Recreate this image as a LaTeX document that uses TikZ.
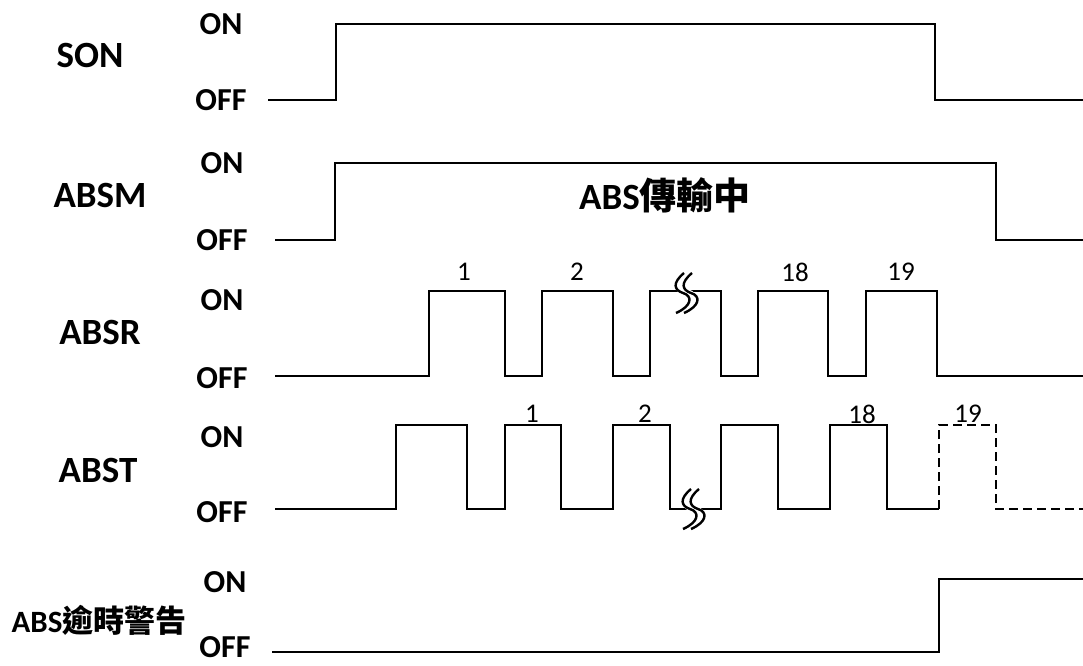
\documentclass[tikz,border=0pt]{standalone}
\usepackage{fontspec}
\setmainfont{Carlito}
\newfontfamily\cjk{Noto Sans CJK TC}
\usepackage{tikz}
\usetikzlibrary{positioning}

\tikzset{
	signame/.style={font=\bfseries\fontsize{37}{42}\selectfont, inner sep=0pt},
	level/.style={font=\bfseries\fontsize{32}{36}\selectfont, inner sep=0pt},
	pulsenum/.style={font=\fontsize{27}{30}\selectfont, inner sep=0pt},
	wave/.style={line width=2.8pt, line join=miter},
	brk/.pic={
		\draw[white, line width=8pt] (2,-20) .. controls (-10,-10) and (-8,-3) .. (1,0) .. controls (11,3) and (10,13) .. (-6,20);
		\foreach \d in {-4,4}
			\draw[line width=2.4pt, shift={(\d,0)}] (2,-20) .. controls (-10,-10) and (-8,-3) .. (1,0) .. controls (11,3) and (10,13) .. (-6,20);
	}
}

\begin{document}
\begin{tikzpicture}[x=1pt, y=-1pt]
	\useasboundingbox[fill=white] (0,0) rectangle (1083,665);
	% SON
	\node[signame] (son) at (90,55) {SON};
	\node[level] (sonon) at (221,24) {ON};
	\node[level] (sonoff) at (221,100) {OFF};
	\draw[wave] (268,100) -| (336,24) -| (935,100) -- (1083,100);
	% ABSM
	\node[signame] (absm) at (100,195) {ABSM};
	\node[level] (absmon) at (222,163) {ON};
	\node[level] (absmoff) at (222,240) {OFF};
	\draw[wave] (275,240) -| (335,163) -| (996,240) -- (1083,240);
	\node[signame] (busy) at (665,195) {ABS{\cjk\bfseries 傳輸中}};
	% ABSR
	\node[signame] (absr) at (100,332) {ABSR};
	\node[level] (absron) at (222,300) {ON};
	\node[level] (absroff) at (222,378) {OFF};
	\draw[wave] (275,376) -| (429,291) -| (505,376) -| (542,291) -| (613,376)
		-| (650,291) -| (721,376) -| (758,291) -| (828,376) -| (866,291) -| (937,376) -- (1083,376);
	\pic at (686,293) {brk};
	\foreach \n/\x in {1/464, 2/577, 18/795, 19/901}
		\node[pulsenum] (r\n) at (\x,272) {\n};
	% ABST
	\node[signame] (abst) at (98,470) {ABST};
	\node[level] (abston) at (222,437) {ON};
	\node[level] (abstoff) at (222,512) {OFF};
	\draw[wave] (275,509) -| (396,425) -| (467,509) -| (505,425) -| (561,509) -| (613,425)
		-| (670,509) -| (721,425) -| (778,509) -| (830,425) -| (887,509) -- (939,509);
	\draw[wave, dash pattern=on 9pt off 5pt] (939,509) |- (996,425) |- (1083,509);
	\pic at (693,509) {brk};
	\foreach \n/\x in {1/532, 2/645, 18/862, 19/968}
		\node[pulsenum] (t\n) at (\x,414) {\n};
	% ABS timeout alarm
	\node[signame, font=\bfseries\fontsize{31}{35}\selectfont] (alarm) at (99,620) {ABS{\cjk\bfseries 逾時警告}};
	\node[level] (alarmon) at (225,582) {ON};
	\node[level] (alarmoff) at (225,647) {OFF};
	\draw[wave] (272,652) -| (939,579) -- (1083,579);
\end{tikzpicture}
\end{document}
